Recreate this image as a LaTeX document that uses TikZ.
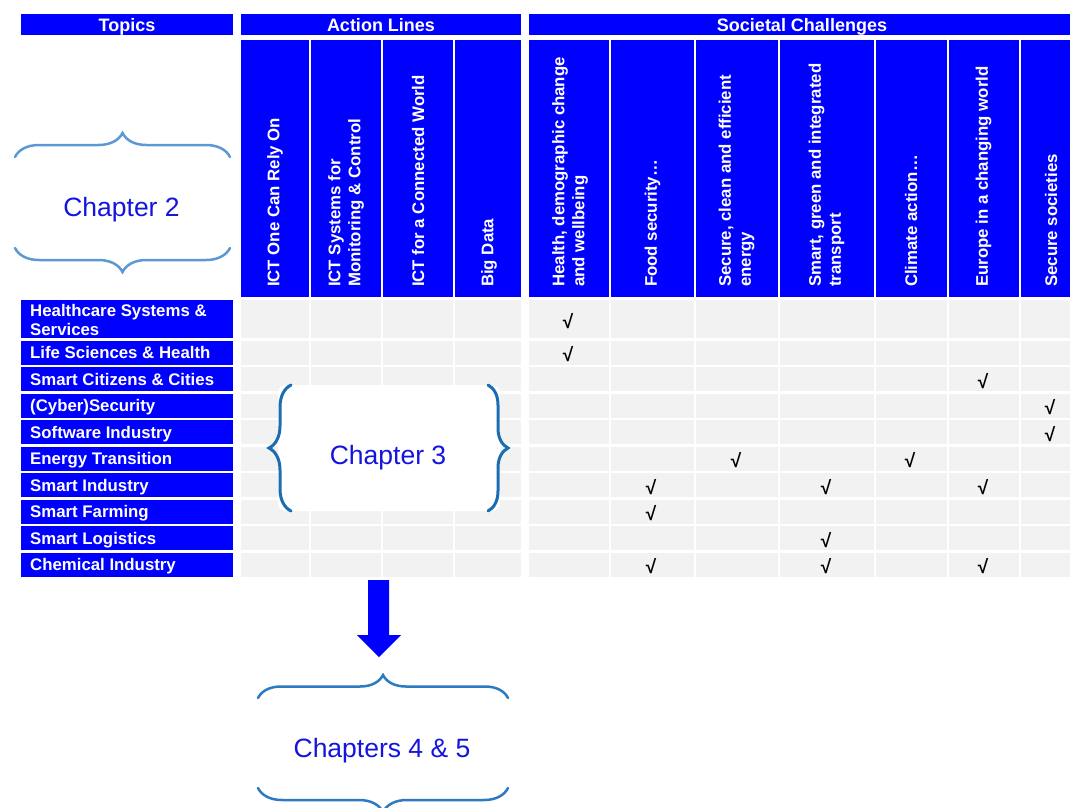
\documentclass[tikz,border=0pt]{standalone}
\usepackage{fontspec}
\setmainfont{Liberation Sans}
\usetikzlibrary{decorations.pathreplacing}

\definecolor{barblue}{RGB}{0,0,255}
\definecolor{cellgray}{RGB}{242,242,242}
\definecolor{chapblue}{RGB}{20,20,222}
\definecolor{bracelight}{RGB}{91,152,212}
\definecolor{bracedark}{RGB}{28,108,180}
\definecolor{bracemid}{RGB}{44,122,194}

\begin{document}
\begin{tikzpicture}[x=1pt,y=-1pt,
  head/.style={anchor=base, text=white, inner sep=0pt, font=\bfseries\fontsize{18}{20}\selectfont},
  topic/.style={anchor=base west, text=white, align=left, inner sep=0pt, font=\bfseries\fontsize{16.8}{19}\selectfont},
  colhead/.style={rotate=90, anchor=west, text=white, align=left, inner sep=0pt, font=\bfseries\fontsize{16.8}{20}\selectfont},
  tick/.style={inner sep=0pt, font=\bfseries\fontsize{19}{19}\selectfont},
  chap/.style={anchor=base, text=chapblue, inner sep=0pt, font=\fontsize{26.5}{30}\selectfont},
  curly/.style={decorate, decoration={brace, amplitude=#1}, line width=2.5pt, line cap=round}]

\useasboundingbox (0,0) rectangle (1070,807);
\clip (0,0) rectangle (1070,807);

% header bars
\fill[barblue] (21,14) rectangle (233,35);
\fill[barblue] (241,14) rectangle (521,35);
\fill[barblue] (529,14) rectangle (1080,35);

\node[head] (topics) at (127,31) {Topics};
\node[head] (actions) at (381,31) {Action Lines};
\node[head] (societal) at (802,31) {Societal Challenges};

% column heads and cells
\fill[barblue] (241,40) rectangle (521,297);
\fill[barblue] (529,40) rectangle (1080,297);
\fill[barblue] (21,300) rectangle (233,577);
\fill[cellgray] (241,300) rectangle (521,577);
\fill[cellgray] (529,300) rectangle (1080,577);

\draw[white, line width=2pt] (309.5,40) -- (309.5,577);
\draw[white, line width=2pt] (381.5,40) -- (381.5,577);
\draw[white, line width=2pt] (453.5,40) -- (453.5,577);
\draw[white, line width=2pt] (610,40) -- (610,577);
\draw[white, line width=2pt] (694.5,40) -- (694.5,577);
\draw[white, line width=2pt] (778.5,40) -- (778.5,577);
\draw[white, line width=2pt] (874.5,40) -- (874.5,577);
\draw[white, line width=2pt] (947.5,40) -- (947.5,577);
\draw[white, line width=2pt] (1019.5,40) -- (1019.5,577);

\draw[white, line width=2.5pt] (15,339.5) -- (1080,339.5);
\draw[white, line width=2.5pt] (15,366) -- (1080,366);
\draw[white, line width=2.5pt] (15,392.5) -- (1080,392.5);
\draw[white, line width=2.5pt] (15,419) -- (1080,419);
\draw[white, line width=2.5pt] (15,445.5) -- (1080,445.5);
\draw[white, line width=2.5pt] (15,472) -- (1080,472);
\draw[white, line width=2.5pt] (15,498.5) -- (1080,498.5);
\draw[white, line width=2.5pt] (15,525) -- (1080,525);
\draw[white, line width=2.5pt] (15,551.5) -- (1080,551.5);

% action lines
\node[colhead] (cRely) at (275,287) {ICT One Can Rely On};
\node[colhead] (cMonitor) at (346,287) {ICT Systems for\\Monitoring \& Control};
\node[colhead] (cConnected) at (418,287) {ICT for a Connected World};
\node[colhead] (cBigData) at (489,287) {Big Data};

% societal challenges
\node[colhead] (cHealth) at (570,287) {Health, demographic change\\and wellbeing};
\node[colhead] (cFood) at (652.5,287) {Food security\dots};
\node[colhead] (cEnergy) at (736.5,287) {Secure, clean and efficient\\energy};
\node[colhead] (cTransport) at (826.5,287) {Smart, green and integrated\\transport};
\node[colhead] (cClimate) at (911,287) {Climate action\dots};
\node[colhead] (cEurope) at (983.5,287) {Europe in a changing world};
\node[colhead] (cSecure) at (1051,287) {Secure societies};

% topics
\node[topic, anchor=west] (tHealthcare) at (30,319.75) {Healthcare Systems \&\\Services};
\node[topic] (tLife) at (30,358.5) {Life Sciences \& Health};
\node[topic] (tCities) at (30,385) {Smart Citizens \& Cities};
\node[topic] (tCyber) at (30,411.5) {(Cyber)Security};
\node[topic] (tSoftware) at (30,438) {Software Industry};
\node[topic] (tEnergy) at (30,464.5) {Energy Transition};
\node[topic] (tIndustry) at (30,491) {Smart Industry};
\node[topic] (tFarming) at (30,517.5) {Smart Farming};
\node[topic] (tLogistics) at (30,544) {Smart Logistics};
\node[topic] (tChemical) at (30,570) {Chemical Industry};

% ticks
\node[tick] (k1) at (568,321.5) {√};
\node[tick] (k2) at (568,354.5) {√};
\node[tick] (k3) at (983,381) {√};
\node[tick] (k4) at (1050,407.5) {√};
\node[tick] (k5) at (1050,434) {√};
\node[tick] (k6) at (736,460.5) {√};
\node[tick] (k7) at (910,460.5) {√};
\node[tick] (k8) at (651,487) {√};
\node[tick] (k9) at (826,487) {√};
\node[tick] (k10) at (983,487) {√};
\node[tick] (k11) at (651,513.5) {√};
\node[tick] (k12) at (826,540) {√};
\node[tick] (k13) at (651,566) {√};
\node[tick] (k14) at (826,566) {√};
\node[tick] (k15) at (983,566) {√};

% chapter 2
\draw[curly=24, bracelight] (15,157) -- (230,157);
\draw[curly=24, bracelight] (230,248) -- (15,248);
\node[chap] (ch2) at (121.5,216) {Chapter 2};

% chapter 3
\fill[white, rounded corners=8pt] (278,385) rectangle (500,511);
\draw[curly=22, bracedark, line width=3pt] (291,511) -- (291,385);
\draw[curly=20, bracedark, line width=3pt] (488,385) -- (488,511);
\node[chap] (ch3) at (388,464) {Chapter 3};

% arrow
\fill[barblue] (368,580) -- (389,580) -- (389,635) -- (401,635) -- (379,657) -- (357,635) -- (368,635) -- cycle;

% chapters 4 & 5
\draw[curly=23, bracemid] (258,698) -- (508,698);
\draw[curly=24, bracemid] (508,788) -- (258,788);
\node[chap] (ch45) at (382,757) {Chapters 4 \& 5};

\end{tikzpicture}
\end{document}
